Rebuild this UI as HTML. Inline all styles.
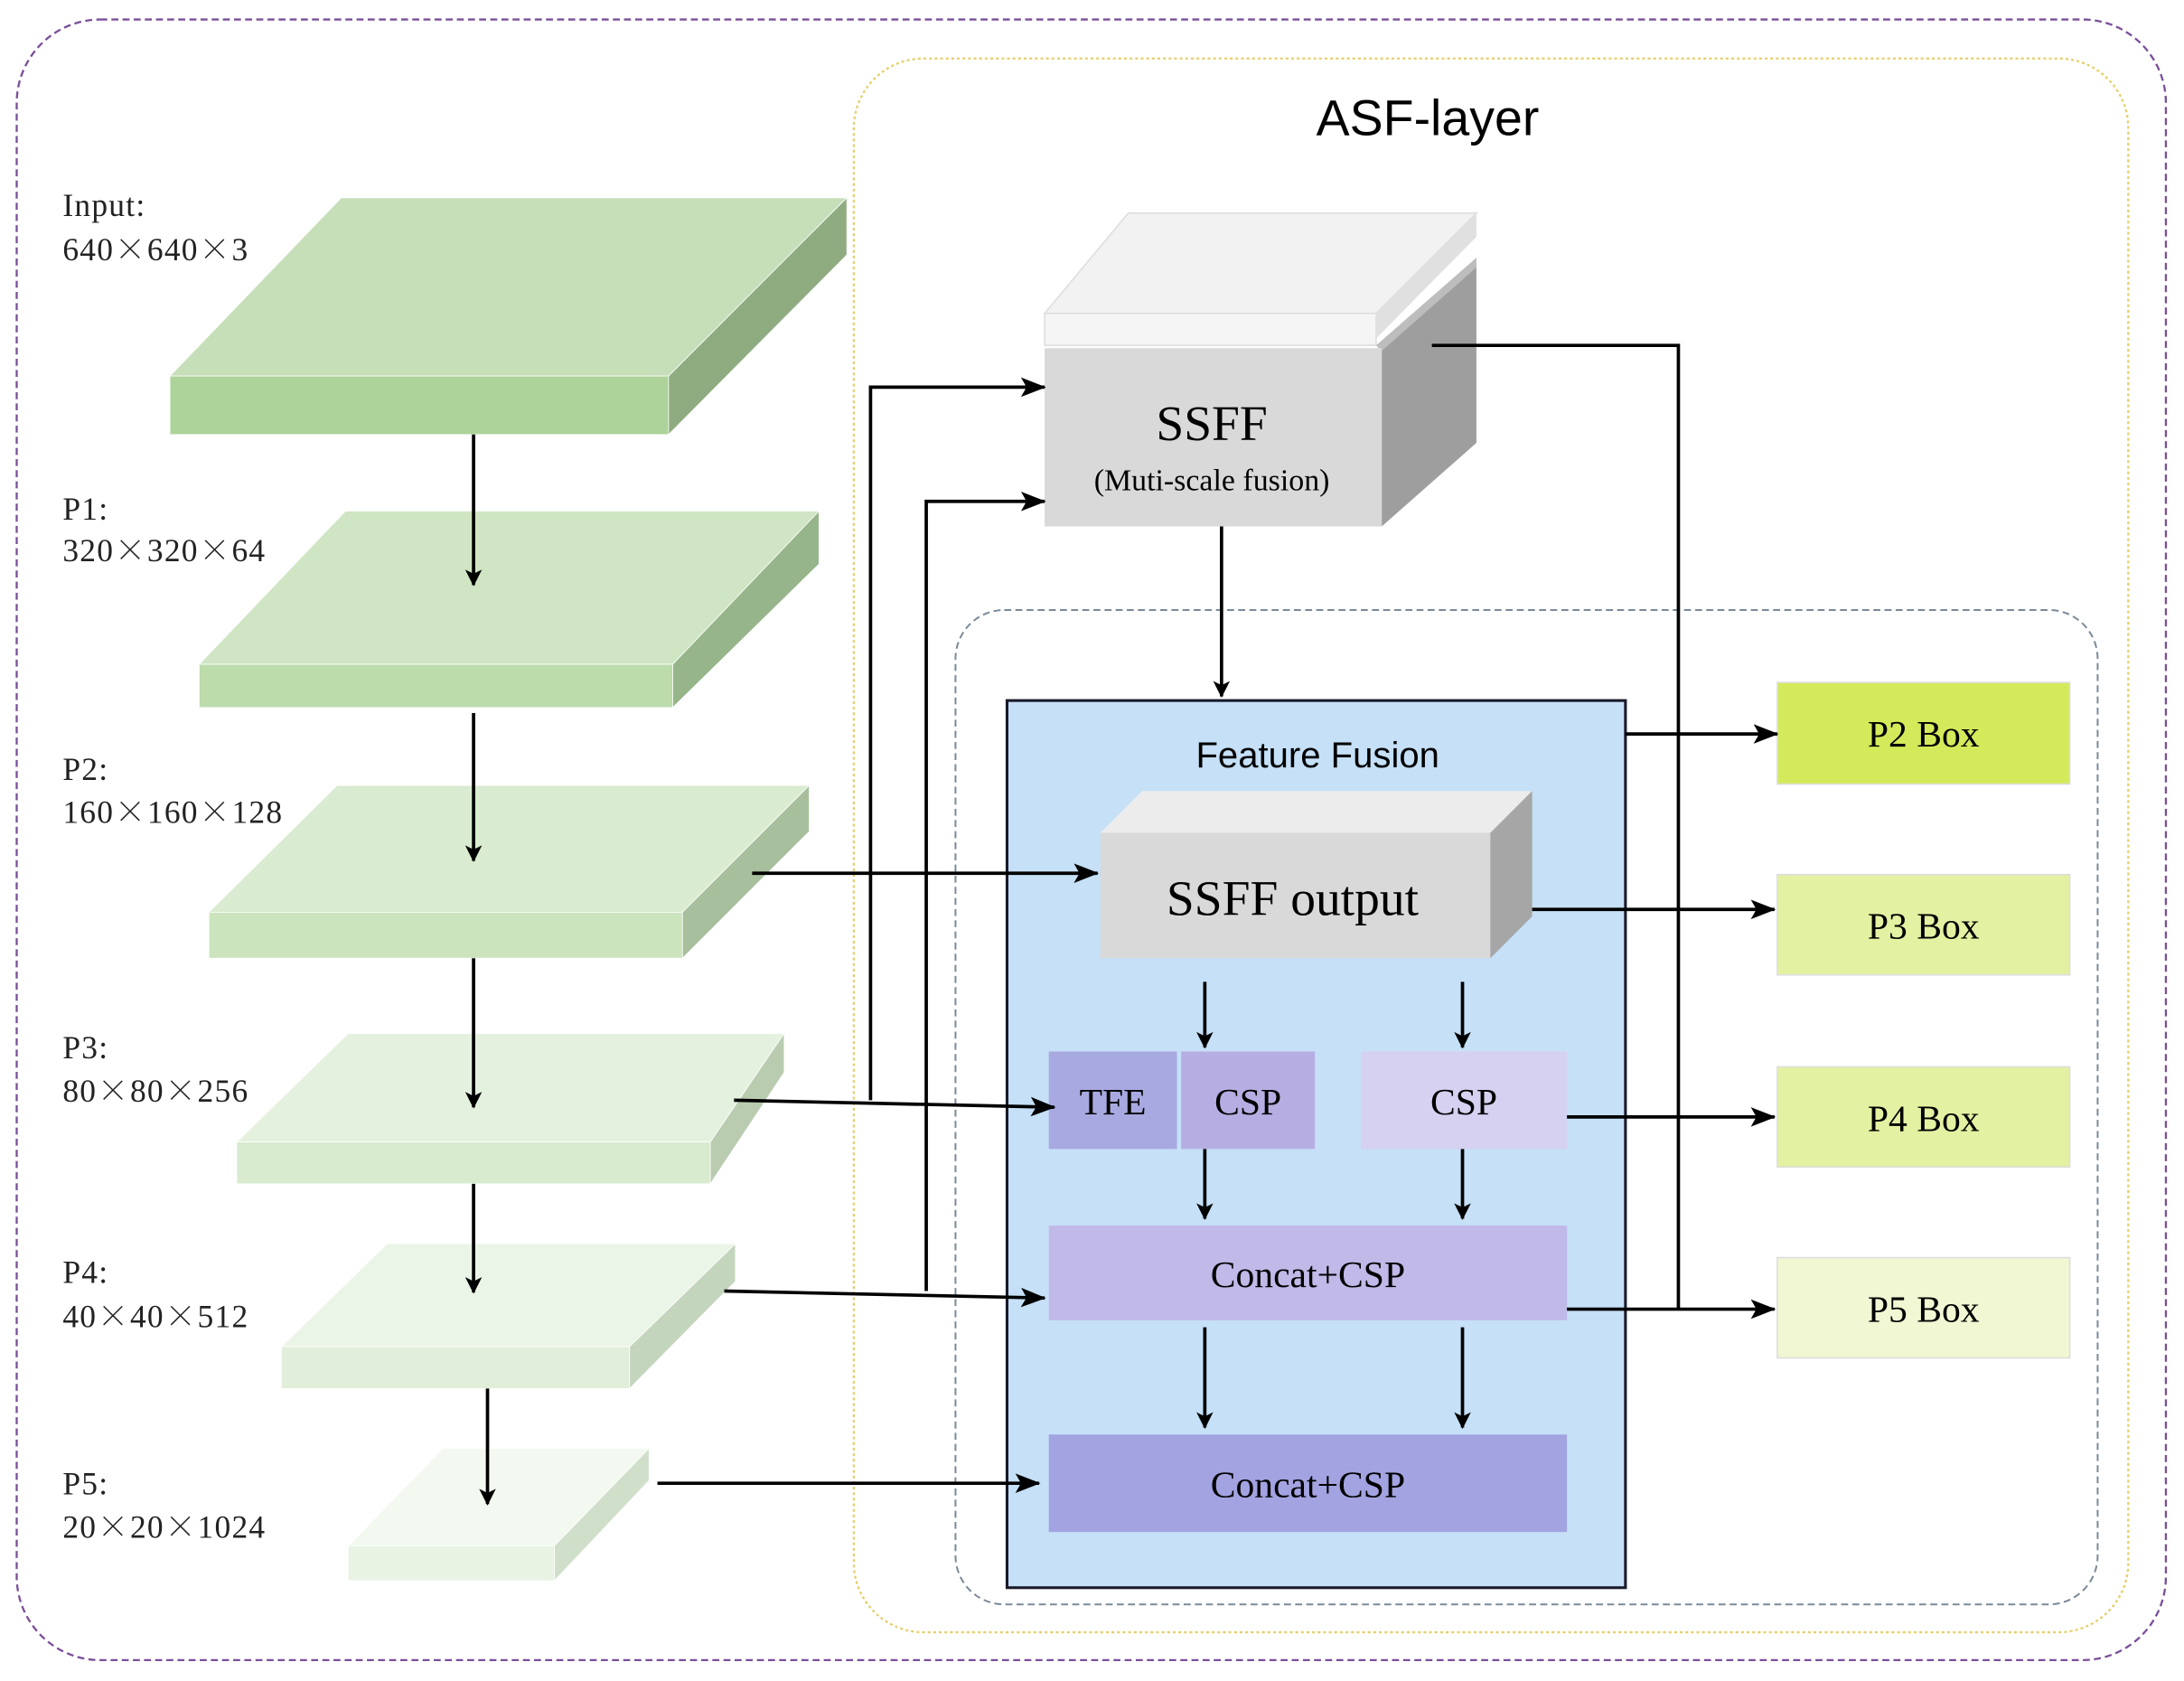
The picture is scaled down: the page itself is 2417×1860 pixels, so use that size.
<!DOCTYPE html>
<html><head><meta charset="utf-8"><style>html,body{margin:0;padding:0;background:#fff}svg{display:block}.x{font-family:"Noto Serif CJK SC","Noto Sans CJK SC",serif}</style></head><body>
<svg width="2417" height="1860" viewBox="0 0 1568 1207" preserveAspectRatio="none" xmlns="http://www.w3.org/2000/svg">
<defs><marker id="a" markerWidth="12" markerHeight="12" refX="11" refY="6" orient="auto" markerUnits="userSpaceOnUse" viewBox="0 0 12 12"><path d="M0,0 L12,6 L0,12 L3,6 z" fill="#000"/></marker>
<marker id="b" markerWidth="18" markerHeight="14" refX="17" refY="7" orient="auto" markerUnits="userSpaceOnUse" viewBox="0 0 18 14"><path d="M0,0 L18,7 L0,14 L4,7 z" fill="#000"/></marker></defs>
<rect x="12" y="14" width="1543" height="1178" rx="60" fill="none" stroke="#7a4f9a" stroke-width="1.5" stroke-dasharray="5,3"/>
<rect x="613" y="42" width="915" height="1130" rx="50" fill="none" stroke="#e6cf6a" stroke-width="1.5" stroke-dasharray="2,2"/>
<text x="1025" y="97" font-family="Liberation Sans,sans-serif" font-size="36" text-anchor="middle">ASF-layer</text>
<rect x="686" y="438" width="820" height="714" rx="35" fill="none" stroke="#7a8a99" stroke-width="1.3" stroke-dasharray="5,3"/>
<rect x="723" y="503" width="444" height="637" fill="#c5e0f7" stroke="#1a1a2a" stroke-width="2"/>
<text x="946" y="551" font-family="Liberation Sans,sans-serif" font-size="26" text-anchor="middle">Feature Fusion</text>
<g stroke="#fff" stroke-width="0.5">
<polygon points="122,270 245,142 608,142 480,270" fill="#c6dfb9"/><rect x="122" y="270" width="358" height="42" fill="#aed39a"/><polygon points="480,270 608,142 608,183 480,312" fill="#8fac80"/>
<polygon points="143,477 248,367 588,367 483,477" fill="#cfe5c3"/><rect x="143" y="477" width="340" height="31" fill="#bcdcab"/><polygon points="483,477 588,367 588,405 483,508" fill="#97b58a"/>
<polygon points="150,655 242,564 581,564 490,655" fill="#d9ebd0"/><rect x="150" y="655" width="340" height="33" fill="#cbe4bd"/><polygon points="490,655 581,564 581,597 490,688" fill="#a7bf9c"/>
<polygon points="170,820 250,742 563,742 510,820" fill="#e4f1de"/><rect x="170" y="820" width="340" height="30" fill="#d8ebce"/><polygon points="510,820 563,742 563,770 510,850" fill="#b9ccb0"/>
<polygon points="202,967 278,893 528,893 452,967" fill="#ebf5e7"/><rect x="202" y="967" width="250" height="30" fill="#e1efda"/><polygon points="452,967 528,893 528,920 452,997" fill="#c4d5bd"/>
<polygon points="250,1110 318,1040 466,1040 398,1110" fill="#f3f9f0"/><rect x="250" y="1110" width="148" height="25" fill="#e9f3e4"/><polygon points="398,1110 466,1040 466,1063 398,1135" fill="#d0dfca"/>
</g>
<g font-family="Liberation Serif,serif" font-size="23" fill="#222" letter-spacing="0.8">
<text x="45" y="155">Input:</text><text x="45" y="187">640<tspan class="x">×</tspan>640<tspan class="x">×</tspan>3</text>
<text x="45" y="373">P1:</text><text x="45" y="403">320<tspan class="x">×</tspan>320<tspan class="x">×</tspan>64</text>
<text x="45" y="560">P2:</text><text x="45" y="591">160<tspan class="x">×</tspan>160<tspan class="x">×</tspan>128</text>
<text x="45" y="760">P3:</text><text x="45" y="791">80<tspan class="x">×</tspan>80<tspan class="x">×</tspan>256</text>
<text x="45" y="921">P4:</text><text x="45" y="953">40<tspan class="x">×</tspan>40<tspan class="x">×</tspan>512</text>
<text x="45" y="1073">P5:</text><text x="45" y="1104">20<tspan class="x">×</tspan>20<tspan class="x">×</tspan>1024</text>
</g>
<polygon points="750,225 810,153 1060,153 988,225" fill="#f2f2f2" stroke="#ddd"/>
<rect x="750" y="225" width="238" height="23" fill="#f5f5f5" stroke="#ddd"/>
<polygon points="988,225 1060,153 1060,170 988,243" fill="#e0e0e0"/>
<polygon points="992,250 1060,190 1060,318 992,378" fill="#9e9e9e"/>
<polygon points="988,248 1060,185 1060,192 992,252" fill="#bdbdbd"/>
<rect x="750" y="250" width="242" height="128" fill="#d9d9d9"/>
<text x="870" y="316" font-family="Liberation Serif,serif" font-size="36" text-anchor="middle">SSFF</text>
<text x="870" y="352" font-family="Liberation Serif,serif" font-size="22" text-anchor="middle">(Muti-scale fusion)</text>
<polygon points="790,598 820,568 1100,568 1070,598" fill="#ececec"/>
<rect x="790" y="598" width="280" height="90" fill="#d9d9d9"/>
<polygon points="1070,598 1100,568 1100,658 1070,688" fill="#a6a6a6"/>
<text x="928" y="657" font-family="Liberation Serif,serif" font-size="36" text-anchor="middle">SSFF output</text>
<g font-family="Liberation Serif,serif" font-size="27" text-anchor="middle">
<rect x="753" y="755" width="92" height="70" fill="#a9a9e2"/><text x="799" y="800">TFE</text>
<rect x="848" y="755" width="96" height="70" fill="#b6aee2"/><text x="896" y="800">CSP</text>
<rect x="977" y="755" width="148" height="70" fill="#d6d1f0"/><text x="1051" y="800">CSP</text>
<rect x="753" y="880" width="372" height="68" fill="#c1b9e8"/><text x="939" y="924">Concat+CSP</text>
<rect x="753" y="1030" width="372" height="70" fill="#a3a3e2"/><text x="939" y="1075">Concat+CSP</text>
<rect x="1276" y="490" width="210" height="73" fill="#d4ea5b" stroke="#ddd"/><text x="1381" y="536">P2 Box</text>
<rect x="1276" y="628" width="210" height="72" fill="#e3f1a2" stroke="#ddd"/><text x="1381" y="674">P3 Box</text>
<rect x="1276" y="766" width="210" height="72" fill="#e3f1a2" stroke="#ddd"/><text x="1381" y="812">P4 Box</text>
<rect x="1276" y="903" width="210" height="72" fill="#f1f7d3" stroke="#ddd"/><text x="1381" y="949">P5 Box</text>
</g>
<g stroke="#000" stroke-width="2.4" fill="none" marker-end="url(#a)">
<line x1="340" y1="312" x2="340" y2="420"/><line x1="340" y1="512" x2="340" y2="618"/><line x1="340" y1="688" x2="340" y2="795"/><line x1="340" y1="850" x2="340" y2="928"/><line x1="350" y1="997" x2="350" y2="1080"/>
<line x1="877" y1="378" x2="877" y2="500"/>
<line x1="865" y1="705" x2="865" y2="752"/><line x1="1050" y1="705" x2="1050" y2="752"/>
<line x1="865" y1="825" x2="865" y2="875"/><line x1="1050" y1="825" x2="1050" y2="875"/>
<line x1="865" y1="953" x2="865" y2="1025"/><line x1="1050" y1="953" x2="1050" y2="1025"/>
</g>
<g stroke="#000" stroke-width="2.4" fill="none" marker-end="url(#b)">
<polyline points="1028,248 1205,248 1205,940" marker-end="none"/>
<line x1="1167" y1="527" x2="1276" y2="527"/>
<line x1="1100" y1="653" x2="1274" y2="653"/>
<line x1="1125" y1="802" x2="1274" y2="802"/>
<line x1="1125" y1="940" x2="1274" y2="940"/>
<line x1="540" y1="627" x2="788" y2="627"/>
<polyline points="527,790 757,795"/>
<polyline points="625,790 625,278 750,278"/>
<polyline points="520,927 750,932"/>
<polyline points="665,927 665,360 750,360"/>
<line x1="472" y1="1065" x2="746" y2="1065"/>
</g>
</svg>
</body></html>
